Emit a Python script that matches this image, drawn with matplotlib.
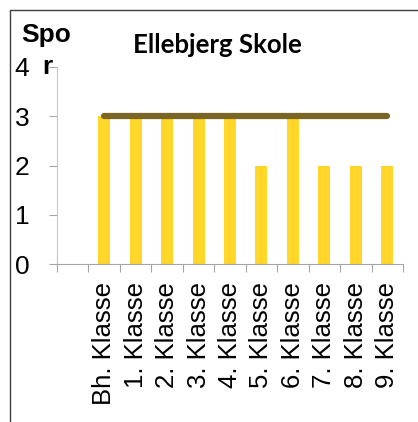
import numpy as np
import matplotlib
matplotlib.use("Agg")
import matplotlib.pyplot as plt
from matplotlib.patches import Rectangle

categories = ["", "Bh. Klasse", "1. Klasse", "2. Klasse", "3. Klasse", "4. Klasse",
              "5. Klasse", "6. Klasse", "7. Klasse", "8. Klasse", "9. Klasse"]
spor = [np.nan, 3, 3, 3, 3, 3, 2, 3, 2, 2, 2]
maks = [np.nan, 3, 3, 3, 3, 3, 3, 3, 3, 3, 3]
yticks = [0, 1, 2, 3, 4]

plt.rcParams['font.family'] = ['Liberation Sans', 'DejaVu Sans']

fig = plt.figure(figsize=(4.18, 4.22), dpi=100)
ax = fig.add_axes([57/418, 1 - 264/422, (403 - 57)/418, (264 - 67)/422])

x = np.arange(len(categories))
ax.bar(x, spor, width=0.38, color="#FFD629", zorder=2)
ax.plot(x, maks, color="#7A6624", lw=4.5, solid_capstyle="round", zorder=3)

ax.set_xlim(-0.5, len(categories) - 0.5)
ax.set_ylim(0, 4)
ax.set_yticks(yticks)
ax.tick_params(axis="y", labelsize=19, length=6, color="#a6a6a6", pad=14)

ax.set_xticks(np.arange(-0.5, len(categories)), minor=False)
ax.set_xticklabels([])
ax.set_xticks(x, minor=True)
ax.set_xticklabels(categories, minor=True, rotation=90, fontsize=18.5)
ax.tick_params(axis="x", which="major", length=6, color="#a6a6a6")
ax.tick_params(axis="x", which="minor", length=0, pad=13)

for s in ["top", "right"]:
    ax.spines[s].set_visible(False)
ax.spines["left"].set_color("#c8c8c8")
ax.spines["bottom"].set_color("#a6a6a6")

fig.text(217/418, 1 - 45/422, "Ellebjerg Skole", ha="center", va="center",
         fontsize=18.5, fontweight="bold", family=["Lato", "DejaVu Sans"])
# y-label "Spor" wrapped over two lines as in the original
fig.text(46/418, 1 - 42/422, "Spo", ha="center", va="baseline",
         fontsize=19, fontweight="bold")
fig.text(47/418, 1 - 74/422, "r", ha="center", va="baseline",
         fontsize=19, fontweight="bold")

fig.patches.append(Rectangle((10/418, -0.1), 1.2, 1 - 10/422 + 0.1, transform=fig.transFigure,
                             fill=False, edgecolor="#404040", lw=1))

fig.savefig("out.png", dpi=100)
